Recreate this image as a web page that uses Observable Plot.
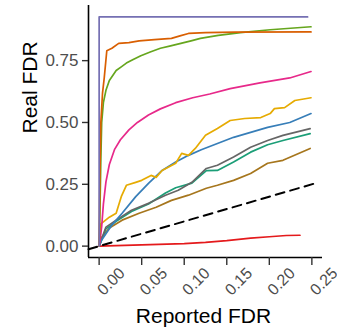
<!DOCTYPE html>
<html><head><meta charset="utf-8">
<script src="https://cdn.jsdelivr.net/npm/d3@7"></script>
<script src="https://cdn.jsdelivr.net/npm/@observablehq/plot@0.6"></script>
<style>
html,body{margin:0;padding:0;background:#fff;}
#chart svg{display:block;font-family:"Liberation Sans",Arial,Helvetica,sans-serif;}
</style></head><body><div id="chart"></div>
<script>
// Series (reported FDR x, real FDR y)
const purpleX = [0, 0, 0.245];
const purpleY = [0, 0.927, 0.927];
const orangeX = [0, 0.001, 0.002, 0.004, 0.006, 0.009, 0.015, 0.023, 0.035, 0.047, 0.065, 0.085, 0.095, 0.105, 0.125, 0.16, 0.249];
const orangeY = [0, 0.30, 0.50, 0.62, 0.68, 0.79, 0.80, 0.82, 0.823, 0.83, 0.835, 0.84, 0.85, 0.86, 0.863, 0.865, 0.866];
const greenX = [0, 0.001, 0.002, 0.003, 0.005, 0.008, 0.012, 0.016, 0.020, 0.026, 0.032, 0.040, 0.049, 0.060, 0.072, 0.084, 0.096, 0.108, 0.119, 0.140, 0.166, 0.201, 0.249];
const greenY = [0, 0.15, 0.35, 0.50, 0.58, 0.63, 0.67, 0.69, 0.71, 0.725, 0.74, 0.755, 0.77, 0.785, 0.80, 0.81, 0.82, 0.83, 0.84, 0.852, 0.863, 0.875, 0.887];
const pinkX = [0, 0.001, 0.003, 0.005, 0.008, 0.012, 0.018, 0.025, 0.035, 0.045, 0.058, 0.072, 0.090, 0.110, 0.130, 0.154, 0.189, 0.224, 0.249];
const pinkY = [0, 0.02, 0.08, 0.17, 0.26, 0.33, 0.39, 0.43, 0.47, 0.50, 0.53, 0.555, 0.58, 0.60, 0.615, 0.637, 0.66, 0.68, 0.706];
const yellowX = [0, 0.002, 0.012, 0.020, 0.026, 0.032, 0.043, 0.050, 0.061, 0.067, 0.074, 0.090, 0.097, 0.105, 0.113, 0.125, 0.139, 0.154, 0.171, 0.190, 0.201, 0.206, 0.218, 0.230, 0.249];
const yellowY = [0.02, 0.09, 0.117, 0.133, 0.20, 0.246, 0.258, 0.266, 0.286, 0.278, 0.306, 0.335, 0.375, 0.367, 0.395, 0.448, 0.476, 0.508, 0.516, 0.52, 0.536, 0.556, 0.56, 0.589, 0.60];
const blueX = [0, 0.003, 0.015, 0.027, 0.043, 0.058, 0.074, 0.090, 0.105, 0.120, 0.158, 0.198, 0.224, 0.249];
const blueY = [0, 0.025, 0.085, 0.133, 0.20, 0.254, 0.306, 0.34, 0.367, 0.39, 0.44, 0.48, 0.50, 0.536];
const grayX = [0, 0.008, 0.020, 0.038, 0.058, 0.078, 0.093, 0.109, 0.126, 0.139, 0.158, 0.178, 0.198, 0.216, 0.248];
const grayY = [0, 0.077, 0.105, 0.145, 0.173, 0.206, 0.226, 0.258, 0.314, 0.327, 0.36, 0.40, 0.427, 0.448, 0.475];
const tealX = [0, 0.008, 0.020, 0.038, 0.058, 0.078, 0.090, 0.109, 0.126, 0.139, 0.158, 0.178, 0.198, 0.216, 0.248];
const tealY = [0, 0.07, 0.10, 0.14, 0.17, 0.215, 0.236, 0.255, 0.305, 0.306, 0.34, 0.38, 0.41, 0.427, 0.455];
const brownX = [0, 0.003, 0.012, 0.027, 0.047, 0.067, 0.085, 0.105, 0.126, 0.139, 0.158, 0.178, 0.198, 0.216, 0.248];
const brownY = [0, 0.036, 0.073, 0.105, 0.133, 0.157, 0.185, 0.206, 0.234, 0.246, 0.266, 0.294, 0.335, 0.347, 0.395];
const redX = [0, 0.05, 0.10, 0.125, 0.15, 0.178, 0.20, 0.22, 0.236];
const redY = [0, 0.005, 0.01, 0.015, 0.022, 0.032, 0.038, 0.043, 0.044];
const diagX = [-0.0125, 0.254];

const xTicks = [0, 0.05, 0.10, 0.15, 0.20, 0.25];
const yTicks = [0, 0.25, 0.50, 0.75];
const xTitle = "Reported FDR";
const yTitle = "Real FDR";

const seriesDefs = [
  ["s10", redX, redY, "#E41A1C"],
  ["s9", brownX, brownY, "#A6761D"],
  ["s8", tealX, tealY, "#1B9E77"],
  ["s7", grayX, grayY, "#666666"],
  ["s6", blueX, blueY, "#377EB8"],
  ["s5", yellowX, yellowY, "#E6AB02"],
  ["s4", pinkX, pinkY, "#E7298A"],
  ["s3", greenX, greenY, "#66A61E"],
  ["s2", orangeX, orangeY, "#D95F02"],
  ["s1", purpleX, purpleY, "#7570B3"]
];
const rows = [];
for (const [name, xs, ys] of seriesDefs) xs.forEach((x, i) => rows.push({name, x, y: ys[i]}));
const diag = diagX.map(x => ({x, y: x}));

const xDom = [-0.0125, 0.2625], yDom = [-0.046, 0.973];

const chart = Plot.plot({
  width: 337, height: 328,
  marginLeft: 88, marginRight: 15, marginTop: 5, marginBottom: 71,
  style: {fontFamily: '"Liberation Sans",Arial,Helvetica,sans-serif', background: "#fff"},
  x: {type: "linear", domain: xDom, axis: null},
  y: {type: "linear", domain: yDom, axis: null},
  color: {type: "ordinal", domain: seriesDefs.map(d => d[0]), range: seriesDefs.map(d => d[3])},
  marks: [
    Plot.line(rows, {x: "x", y: "y", z: "name", stroke: "name", strokeWidth: 1.7}),
    Plot.line(diag, {x: "x", y: "y", stroke: "#000", strokeWidth: 2, strokeDasharray: "9,6"}),
    Plot.ruleX([xDom[0]], {stroke: "#000", strokeWidth: 1.6}),
    Plot.ruleY([yDom[0]], {stroke: "#000", strokeWidth: 1.6}),
    Plot.axisX({ticks: xTicks, tickSize: 8, text: null, stroke: "#333", strokeWidth: 1.4, label: null}),
    Plot.axisX({ticks: xTicks, tickSize: 0, tickFormat: d3.format(".2f"), tickRotate: -45, fontSize: 16, fill: "#4D4D4D", textAnchor: "middle", lineAnchor: "middle", tickPadding: 0, dx: 12, dy: 24, label: null}),
    Plot.axisY({ticks: yTicks, tickSize: 6, tickFormat: d3.format(".2f"), fontSize: 17, fill: "#4D4D4D", stroke: "#333", strokeWidth: 1.4, tickPadding: 4, label: null}),
    Plot.text([xTitle], {frameAnchor: "bottom", text: d => d, dy: 65, dx: -2, lineAnchor: "bottom", fontSize: 21, fill: "#000"}),
    Plot.text([yTitle], {frameAnchor: "left", text: d => d, dx: -52, dy: 2, rotate: -90, lineAnchor: "bottom", fontSize: 21, fill: "#000"})
  ]
});
document.getElementById("chart").append(chart);
</script></body></html>
